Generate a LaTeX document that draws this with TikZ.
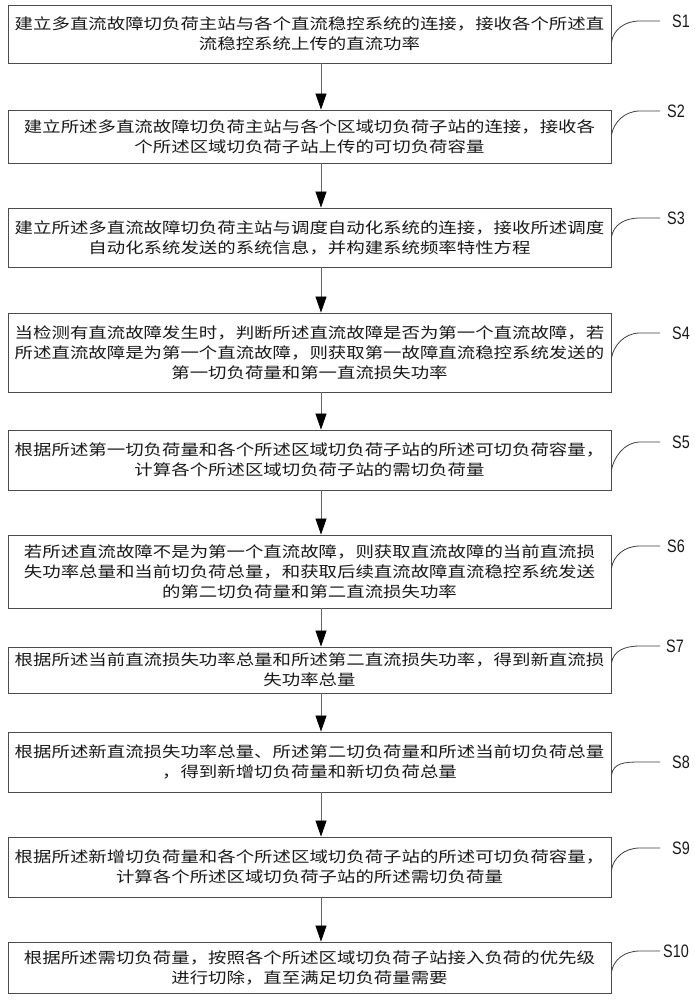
\documentclass[tikz,border=0pt]{standalone}
\usepackage{fontspec}
\usetikzlibrary{arrows.meta}
\newfontfamily\cjk[FakeStretch=1.22]{Noto Sans CJK SC}
\newfontfamily\lab[FakeStretch=0.8]{Liberation Sans}
\tikzset{
  stepbox/.style={draw=black!70, line width=0.9pt, minimum width=603pt, text width=600pt,
    align=center, inner sep=0pt, text=black!90, font=\cjk\fontsize{15.1}{20}\selectfont},
  arr/.style={draw=black!60, line width=0.8pt, -{Triangle[length=16pt,width=11pt,color=black]}},
  leadline/.style={draw=black!75, line width=0.8pt},
  slabel/.style={anchor=west, inner sep=0pt, text=black!90, font=\lab\fontsize{18}{18}\selectfont},
}
\newcommand\leadto[3]{\draw[leadline] (#1.east |- 0,#3) .. controls +(2,-12) and +(-16,0) .. (#2.west -| 640,0) -- (#2.west -| 660,0);}
\begin{document}
\begin{tikzpicture}[x=1pt,y=-1pt]
\useasboundingbox[fill=white] (0,0) rectangle (695,1000);
\coordinate (ax) at (321,0);
\node[stepbox, minimum height=58pt] (b1) at (309.5,34) {建立多直流故障切负荷主站与各个直流稳控系统的连接，接收各个所述直\\流稳控系统上传的直流功率};
\node[stepbox, minimum height=53pt] (b2) at (309.5,136.5) {建立所述多直流故障切负荷主站与各个区域切负荷子站的连接，接收各\\个所述区域切负荷子站上传的可切负荷容量};
\node[stepbox, minimum height=59pt] (b3) at (309.5,237.5) {建立所述多直流故障切负荷主站与调度自动化系统的连接，接收所述调度\\自动化系统发送的系统信息，并构建系统频率特性方程};
\node[stepbox, minimum height=79pt] (b4) at (309.5,352.5) {当检测有直流故障发生时，判断所述直流故障是否为第一个直流故障，若\\所述直流故障是为第一个直流故障，则获取第一故障直流稳控系统发送的\\第一切负荷量和第一直流损失功率};
\node[stepbox, minimum height=60pt] (b5) at (309.5,460) {根据所述第一切负荷量和各个所述区域切负荷子站的所述可切负荷容量，\\计算各个所述区域切负荷子站的需切负荷量};
\node[stepbox, minimum height=73pt] (b6) at (309.5,571.5) {若所述直流故障不是为第一个直流故障，则获取直流故障的当前直流损\\失功率总量和当前切负荷总量，和获取后续直流故障直流稳控系统发送\\的第二切负荷量和第二直流损失功率};
\node[stepbox, minimum height=46pt] (b7) at (309.5,670) {根据所述当前直流损失功率总量和所述第二直流损失功率，得到新直流损\\失功率总量};
\node[stepbox, minimum height=60pt] (b8) at (309.5,762) {根据所述新直流损失功率总量、所述第二切负荷量和所述当前切负荷总量\\，得到新增切负荷量和新切负荷总量};
\node[stepbox, minimum height=60pt] (b9) at (309.5,867) {根据所述新增切负荷量和各个所述区域切负荷子站的所述可切负荷容量，\\计算各个所述区域切负荷子站的所述需切负荷量};
\node[stepbox, minimum height=51pt] (b10) at (309.5,967.5) {根据所述需切负荷量，按照各个所述区域切负荷子站接入负荷的优先级\\进行切除，直至满足切负荷量需要};
\foreach \a/\b in {b1/b2,b2/b3,b3/b4,b4/b5,b5/b6,b6/b7,b7/b8,b8/b9,b9/b10}
  \draw[arr] (\a.south -| ax) -- (\b.north -| ax);
\node[slabel] (s1) at (672,21) {S1};
\node[slabel] (s2) at (667,111) {S2};
\node[slabel] (s3) at (667,218) {S3};
\node[slabel] (s4) at (672,333) {S4};
\node[slabel] (s5) at (672,442) {S5};
\node[slabel] (s6) at (667,546) {S6};
\node[slabel] (s7) at (666,646) {S7};
\node[slabel] (s8) at (672,762) {S8};
\node[slabel] (s9) at (672,848) {S9};
\node[slabel] (s10) at (663,951) {S10};
\leadto{b1}{s1}{42}
\leadto{b2}{s2}{135}
\leadto{b3}{s3}{237}
\leadto{b4}{s4}{358}
\leadto{b5}{s5}{470}
\leadto{b6}{s6}{568}
\leadto{b7}{s7}{663}
\leadto{b8}{s8}{775}
\leadto{b9}{s9}{870}
\leadto{b10}{s10}{972}
\end{tikzpicture}
\end{document}
